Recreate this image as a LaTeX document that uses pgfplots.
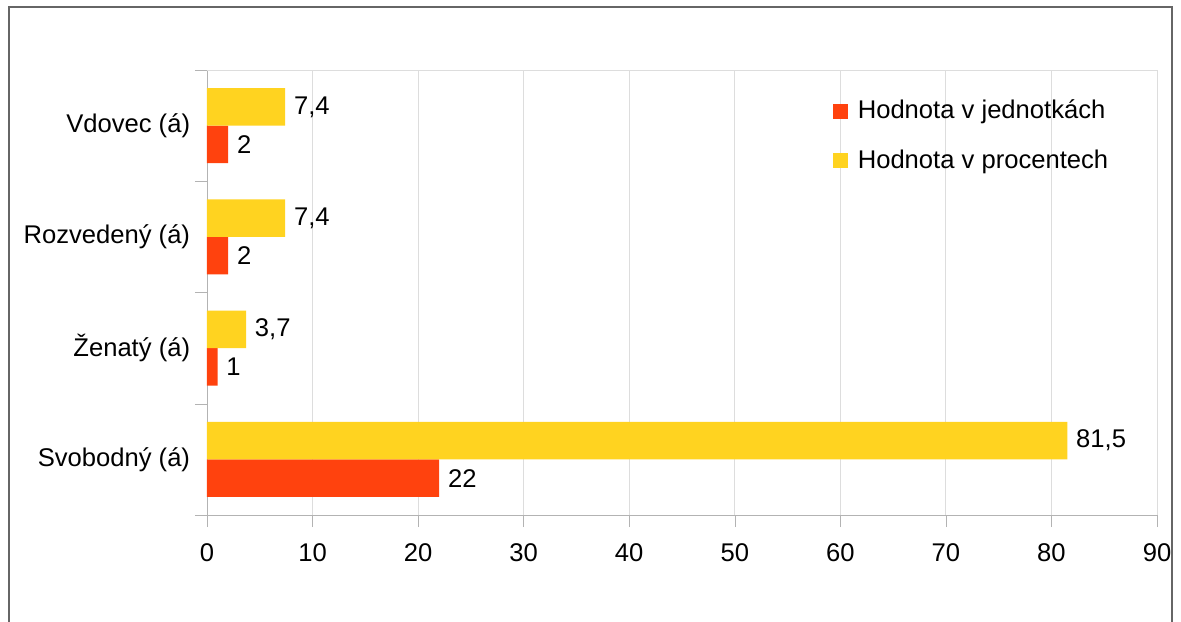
\documentclass[border=0pt]{standalone}
\usepackage{fontspec}
\setmainfont{Liberation Sans}
\usepackage{pgfplots}
\pgfplotsset{compat=1.18}
\usetikzlibrary{calc}
\definecolor{ooRed}{HTML}{FF420E}
\definecolor{ooYellow}{HTML}{FFD320}
\definecolor{axgray}{HTML}{B3B3B3}
\definecolor{gridgray}{HTML}{DDDDDD}

\begin{document}
\fontsize{12.8}{15}\selectfont
\begin{tikzpicture}
\begin{axis}[
  scale only axis, width=475pt, height=222.5pt,
  xbar, bar width=0.337,
  xmin=0, xmax=90, ymin=-0.5, ymax=3.5,
  xtick={0,10,...,90},
  ytick={0,1,2,3},
  yticklabels={Svobodný (á), Ženatý (á), Rozvedený (á), Vdovec (á)},
  minor ytick={-0.5,0.5,1.5,2.5,3.5},
  axis lines=left, axis line style={-, axgray},
  tick align=outside, major tick length=6pt, minor tick length=6pt,
  xtick style={axgray},
  every major y tick/.append style={draw=none},
  every minor y tick/.append style={draw=axgray},
  xmajorgrids, major grid style={gridgray},
  extra y ticks={3.5}, extra y tick labels={},
  extra y tick style={grid=major, major grid style={gridgray}, tick style={draw=none}},
  xticklabel style={yshift=-4pt},
  yticklabel style={xshift=2pt},
  /pgf/number format/.cd, use comma, 1000 sep={}, assume math mode=true, /pgfplots/.cd,
  nodes near coords, nodes near coords align={horizontal},
  every node near coord/.append style={black},
  legend cell align=left,
  legend image code/.code={\fill[#1] (0pt,-3.75pt) rectangle (7.5pt,3.75pt);},
  legend style={draw=none, fill=none, at={(0.652,0.952)}, anchor=north west,
    row sep=9.5pt, column sep=3pt},
]
\addplot[draw=none, fill=ooRed, bar shift=-0.168] coordinates {
  (22,0) (1,1) (2,2) (2,3)
};
\addplot[draw=none, fill=ooYellow, bar shift=0.168] coordinates {
  (81.5,0) (3.7,1) (7.4,2) (7.4,3)
};
\legend{Hodnota v jednotkách, Hodnota v procentech}
\coordinate (ll) at (rel axis cs:0,0);
\end{axis}
\pgfresetboundingbox
\path[use as bounding box] ($(ll)+(-103.5pt,-53pt)$) rectangle ++(590.5pt,310.5pt);
\draw[black!60, line width=0.7pt]
  ($(ll)+(-99pt,-55pt)$) -- ++(0,309pt) -- ++(581.5pt,0) -- ++(0,-309pt);
\end{tikzpicture}
\end{document}
